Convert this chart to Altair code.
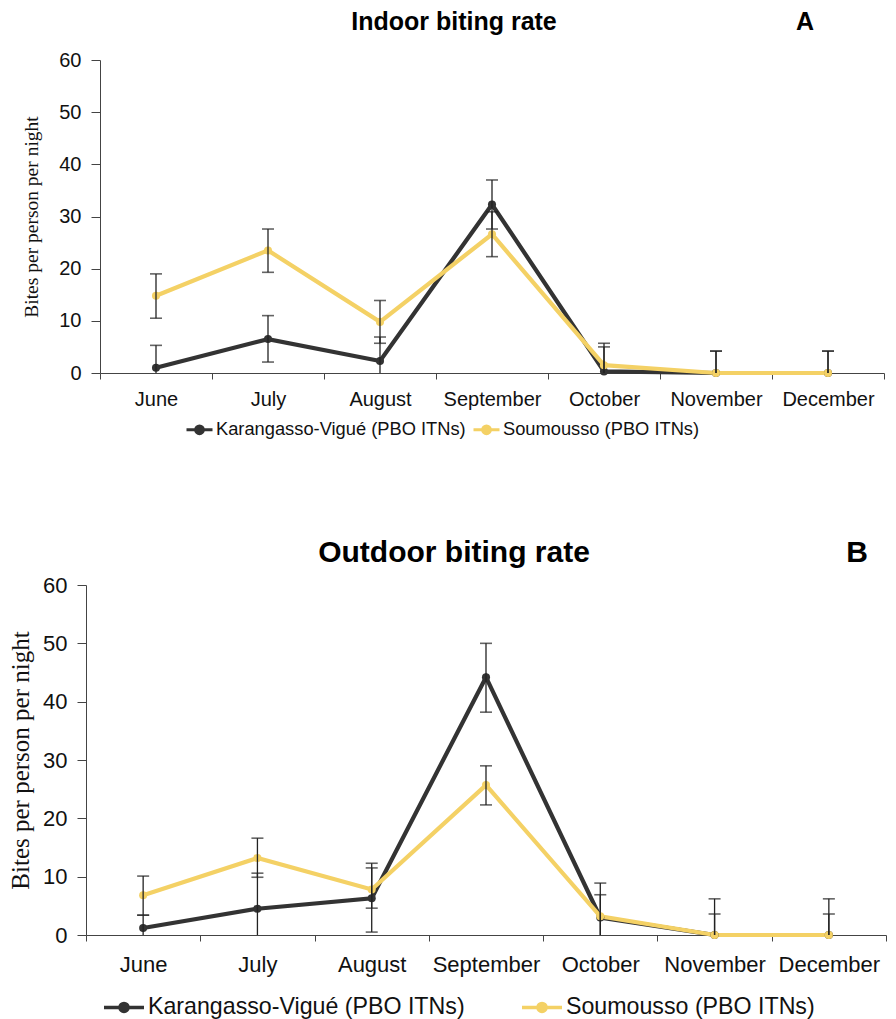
import altair as alt
import pandas as pd

months = ["June", "July", "August", "September", "October", "November", "December"]
sites = ["Karangasso-Vigué (PBO ITNs)", "Soumousso (PBO ITNs)"]
colors = ["#333333", "#F4D165"]

# Indoor (A)
kv_in = [1.0, 6.5, 2.3, 32.3, 0.3, 0.0, 0.0]
kv_in_lo = [0.0, 2.1, 0.0, 27.6, 0.0, 0.0, 0.0]
kv_in_hi = [5.3, 11.0, 6.9, 37.0, 5.7, 4.2, 4.2]
so_in = [14.8, 23.5, 9.8, 26.6, 1.5, 0.0, 0.0]
so_in_lo = [10.5, 19.3, 5.7, 22.3, 0.0, 0.0, 0.0]
so_in_hi = [19.0, 27.6, 13.9, 30.9, 5.0, 4.2, 4.2]

# Outdoor (B)
kv_out = [1.2, 4.5, 6.3, 44.2, 3.0, 0.0, 0.0]
kv_out_lo = [0.0, 0.0, 0.5, 38.2, 0.0, 0.0, 0.0]
kv_out_hi = [3.4, 10.6, 12.3, 50.0, 8.9, 6.2, 6.2]
so_out = [6.8, 13.2, 7.8, 25.7, 3.2, 0.0, 0.0]
so_out_lo = [3.4, 9.9, 4.6, 22.3, 0.0, 0.0, 0.0]
so_out_hi = [10.1, 16.6, 11.5, 29.0, 6.9, 3.6, 3.6]

SANS = "Liberation Sans"
SERIF = "Liberation Serif"


def make_df(kv, kv_lo, kv_hi, so, so_lo, so_hi):
    rows = []
    for i, m in enumerate(months):
        rows.append({"month": m, "idx": i, "site": sites[0], "value": kv[i], "lo": kv_lo[i], "hi": kv_hi[i]})
    for i, m in enumerate(months):
        rows.append({"month": m, "idx": i, "site": sites[1], "value": so[i], "lo": so_lo[i], "hi": so_hi[i]})
    return pd.DataFrame(rows)


def panel(df, title, letter, w, h, x0, fs, yfs_lab, tfs, yfs, title_x, letter_x, head_y,
          ytitle_pad, xlab_pad, leg_x, leg_y, leg_fs, sym_size, col_pad, circ, sym_sw):
    xax = alt.Axis(title=None, labelAngle=0, labelFontSize=fs, labelFont=SANS, labelColor="#111",
                   tickBand="extent", tickSize=6, tickColor="#444", domainColor="#444",
                   labelPadding=xlab_pad, grid=False)
    x = alt.X("month:N", sort=months,
              scale=alt.Scale(type="band", paddingInner=0, paddingOuter=0, range=[x0, w]),
              axis=xax, bandPosition=0.5)
    ysc = alt.Scale(domain=[0, 60], nice=False)
    yax = alt.Axis(title="Bites per person per night", titleFont=SERIF, titleFontSize=yfs,
                   titleFontWeight="normal", titleColor="#111", titlePadding=ytitle_pad,
                   values=[0, 10, 20, 30, 40, 50, 60], labelFontSize=yfs_lab, labelFont=SANS,
                   labelColor="#111", tickSize=9, tickColor="#444", domainColor="#444",
                   labelPadding=10, grid=False, offset=-x0)
    path = (f"M-1,0H1M{circ},0A{circ},{circ},0,1,1,-{circ},0"
            f"A{circ},{circ},0,1,1,{circ},0")
    color = alt.Color("site:N", scale=alt.Scale(domain=sites, range=colors),
                      legend=alt.Legend(orient="none", legendX=leg_x, legendY=leg_y,
                                        direction="horizontal", title=None,
                                        symbolType=path, symbolSize=sym_size, symbolStrokeWidth=sym_sw,
                                        labelFont=SANS, labelFontSize=leg_fs, labelColor="#111",
                                        labelLimit=500, columnPadding=col_pad, labelOffset=2))
    base = alt.Chart(df)
    y_val = alt.Y("value:Q", scale=ysc, axis=yax)
    lines = base.mark_line(strokeWidth=4.2).encode(
        x=x, y=y_val, color=color, order=alt.Order("idx:Q"))
    pts_k = base.transform_filter(alt.datum.site == sites[0]).mark_point(
        filled=True, opacity=1, size=65).encode(x=x, y=y_val, color=color)
    pts_s = base.transform_filter(alt.datum.site == sites[1]).mark_point(
        filled=True, opacity=1, size=65).encode(x=x, y=y_val, color=color)
    rules = base.mark_rule(color="#222", strokeWidth=1.3).encode(
        x=x, y=alt.Y("lo:Q", scale=ysc, axis=yax), y2="hi:Q")
    caps_hi = base.mark_tick(color="#222", thickness=1.6, size=12, orient="horizontal").encode(
        x=x, y=alt.Y("hi:Q", scale=ysc, axis=yax))
    caps_lo = base.transform_filter("datum.lo > 0").mark_tick(
        color="#222", thickness=1.6, size=12, orient="horizontal").encode(
        x=x, y=alt.Y("lo:Q", scale=ysc, axis=yax))
    head = alt.Chart(pd.DataFrame({"t": [title, letter], "k": [0, 1]}))
    ttl = head.transform_filter("datum.k == 0").mark_text(
        font=SANS, fontSize=tfs, fontWeight="bold", color="#000", align="center",
        baseline="middle").encode(text="t:N", x=alt.value(title_x), y=alt.value(head_y))
    lab = head.transform_filter("datum.k == 1").mark_text(
        font=SANS, fontSize=tfs, fontWeight="bold", color="#000", align="center",
        baseline="middle").encode(text="t:N", x=alt.value(letter_x), y=alt.value(head_y))
    layers = [lines, pts_k, pts_s, rules, caps_hi, caps_lo, ttl, lab]
    return alt.layer(*layers).properties(width=w, height=h)


dfA = make_df(kv_in, kv_in_lo, kv_in_hi, so_in, so_in_lo, so_in_hi)
dfB = make_df(kv_out, kv_out_lo, kv_out_hi, so_out, so_out_lo, so_out_hi)

chartA = panel(dfA, "Indoor biting rate", "A", 798, 313, 14, 20, 20, 25, 19.5, 368, 719, -38,
               17, 10, 99, 355, 18.3, 676, 1, 0.3, 3)
chartB = panel(dfB, "Outdoor biting rate", "B", 800, 350, 0, 22, 22, 30, 25, 368, 771, -32,
               9, 13, 16, 400, 23.2, 1600, 50, 0.2, 3.5)

chart = alt.concat(chartA, chartB, columns=1, spacing=98, align="none", center=False).resolve_scale(
    color="independent").resolve_legend(color="independent").configure_view(
    stroke=None).properties(padding={"left": 0, "top": 2, "right": 0, "bottom": 0})

chart.save("out.html", embed_options={"renderer": "svg", "actions": False})
